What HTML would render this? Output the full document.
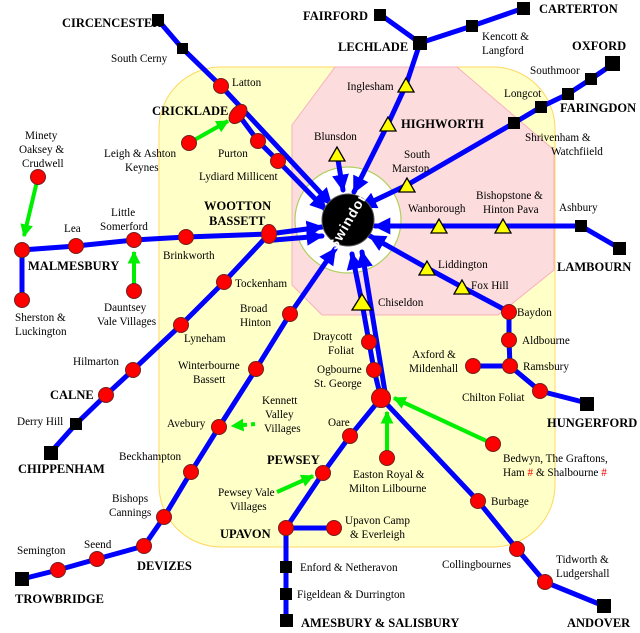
<!DOCTYPE html>
<html><head><meta charset="utf-8"><style>
html,body{margin:0;padding:0;background:#fff}
svg{display:block}
text{font-family:"Liberation Serif",serif;font-size:11.2px;fill:#000}
.b{font-weight:bold;font-size:12.5px;letter-spacing:0}
</style></head><body>
<svg width="640" height="633" viewBox="0 0 640 633">
<defs>
<marker id="ab" viewBox="0 0 10 10" refX="9" refY="5" markerWidth="3.4" markerHeight="3.4" orient="auto" markerUnits="strokeWidth"><path d="M0,0L10,5L0,10z" fill="#0000ff"/></marker>
<marker id="ag" viewBox="0 0 10 10" refX="9" refY="5" markerWidth="3.2" markerHeight="3.2" orient="auto" markerUnits="strokeWidth"><path d="M0,0L10,5L0,10z" fill="#00ee00"/></marker>
</defs>
<rect x="159" y="67" width="396" height="480" rx="62" fill="#ffffc8" stroke="#ffd860" stroke-width="1"/>
<polygon points="335,67 457,67 554,150 554,270 498,315 322,315 292,285 292,125" fill="#fcdcdc" stroke="#f8b0c0" stroke-width="1"/>
<circle cx="348" cy="220" r="53" fill="#fff" stroke="#b0d060" stroke-width="1.2"/>
<g stroke="#0000ff" stroke-width="5" fill="none" stroke-linecap="round">
<polyline points="158,20 182,48 221,86 331,204" marker-end="url(#ab)"/>
<polyline points="238,114 258,141 278,161 326,210" marker-end="url(#ab)"/>
<polyline points="381,15 420,43 472,26 524,8"/>
<polyline points="420,43 406,85 388,124 354,192" marker-end="url(#ab)"/>
<line x1="337" y1="154" x2="343" y2="190" marker-end="url(#ab)"/>
<polyline points="613,64 591,79 568,94 541,107 514,123 407,185 361,207" marker-end="url(#ab)"/>
<polyline points="619,248 581,226 503,226 439,226 375,226" marker-end="url(#ab)"/>
<polyline points="509,312 462,287 427,268 370,236" marker-end="url(#ab)"/>
<polyline points="22,300 22,250 76,246 134,240 186,237 269,234 322,227" marker-end="url(#ab)"/>
<line x1="274" y1="240" x2="322" y2="236" marker-end="url(#ab)"/>
<polyline points="50,453 76,424 106,395 133,370 181,325 224,282 269,234"/>
<polyline points="22,579 58,570 97,559 144,546 164,517 191,472 219,427 256,369 290,314 335,249" marker-end="url(#ab)"/>
<polyline points="381,398 374,370 369,342 362,303 352,254" marker-end="url(#ab)"/>
<line x1="386" y1="398" x2="362" y2="252" marker-end="url(#ab)"/>
<polyline points="286,621 286,567 286,528 323,473 350,436 381,398 478,501 517,549 545,582 604,606"/>
<line x1="286" y1="528" x2="334" y2="528"/>
<polyline points="509,312 509,340 510,366 540,391 587,403"/>
<line x1="473" y1="366" x2="510" y2="366"/>
</g>
<g stroke="#00ee00" stroke-width="4" fill="none">
<line x1="189" y1="143" x2="228" y2="121" marker-end="url(#ag)"/>
<line x1="38" y1="177" x2="24" y2="236" marker-end="url(#ag)"/>
<line x1="134" y1="291" x2="134" y2="252" marker-end="url(#ag)"/>
<line x1="255" y1="424" x2="232" y2="426" stroke-dasharray="4,4" marker-end="url(#ag)"/>
<line x1="277" y1="492" x2="313" y2="476" marker-end="url(#ag)"/>
<line x1="387" y1="458" x2="387" y2="412" marker-end="url(#ag)"/>
<line x1="493" y1="444" x2="394" y2="398" marker-end="url(#ag)"/>
</g>
<circle cx="348" cy="220" r="26" fill="#000" stroke="#555"/>
<text x="348" y="225" text-anchor="middle" transform="rotate(-60 348 220)" style="fill:#fff;font-family:'Liberation Sans',sans-serif;font-weight:bold;font-size:14px;letter-spacing:1px">Swindon</text>
<g fill="#ff0000" stroke="#702020" stroke-width="1">
<circle cx="221" cy="86" r="7.5"/><circle cx="189" cy="143" r="7.5"/><circle cx="258" cy="141" r="7.5"/><circle cx="278" cy="161" r="7.5"/>
<ellipse cx="238" cy="114" rx="11" ry="7" transform="rotate(-50 238 114)"/>
<ellipse cx="269" cy="234" rx="7.5" ry="9.5"/>
<circle cx="22" cy="250" r="7.5"/><circle cx="76" cy="246" r="7.5"/><circle cx="134" cy="240" r="7.5"/><circle cx="186" cy="237" r="7.5"/>
<circle cx="38" cy="177" r="7.5"/><circle cx="22" cy="300" r="7.5"/><circle cx="134" cy="291" r="7.5"/>
<circle cx="224" cy="282" r="7.5"/><circle cx="181" cy="325" r="7.5"/><circle cx="133" cy="370" r="7.5"/><circle cx="106" cy="395" r="7.5"/>
<circle cx="290" cy="314" r="7.5"/><circle cx="256" cy="369" r="7.5"/><circle cx="219" cy="427" r="7.5"/><circle cx="191" cy="472" r="7.5"/><circle cx="164" cy="517" r="7.5"/><circle cx="144" cy="546" r="7.5"/><circle cx="97" cy="559" r="7.5"/><circle cx="58" cy="570" r="7.5"/>
<circle cx="369" cy="342" r="7.5"/><circle cx="374" cy="370" r="7.5"/><circle cx="381" cy="398" r="9.5"/>
<circle cx="350" cy="436" r="7.5"/><circle cx="323" cy="473" r="7.5"/><circle cx="286" cy="528" r="7.5"/><circle cx="334" cy="528" r="7.5"/>
<circle cx="387" cy="458" r="7.5"/><circle cx="493" cy="444" r="7.5"/>
<circle cx="478" cy="501" r="7.5"/><circle cx="517" cy="549" r="7.5"/><circle cx="545" cy="582" r="7.5"/>
<circle cx="509" cy="312" r="7.5"/><circle cx="509" cy="340" r="7.5"/><circle cx="510" cy="366" r="7.5"/><circle cx="473" cy="366" r="7.5"/><circle cx="540" cy="391" r="7.5"/>
</g>
<g fill="#000">
<rect x="152" y="14" width="12" height="12"/><rect x="177" y="43" width="11" height="11"/>
<rect x="374" y="9" width="12" height="12"/><rect x="413" y="36" width="14" height="14"/><rect x="466" y="20" width="12" height="12"/><rect x="517" y="2" width="13" height="13"/>
<rect x="605" y="56" width="15" height="15"/><rect x="585" y="73" width="12" height="12"/><rect x="562" y="88" width="12" height="12"/><rect x="535" y="101" width="12" height="12"/><rect x="508" y="117" width="12" height="12"/>
<rect x="575" y="220" width="12" height="12"/><rect x="613" y="242" width="13" height="13"/>
<rect x="70" y="418" width="12" height="12"/><rect x="44" y="446" width="14" height="14"/>
<rect x="15" y="572" width="14" height="14"/>
<rect x="580" y="397" width="14" height="14"/><rect x="597" y="599" width="14" height="14"/>
<rect x="280" y="561" width="12" height="12"/><rect x="280" y="588" width="12" height="12"/><rect x="280" y="614" width="13" height="13"/>
</g>
<g fill="#ffff00" stroke="#000" stroke-width="1.3">
<polygon points="406,78 398,92 414,92"/><polygon points="388,117 380,131 396,131"/><polygon points="337,147 329,161 345,161"/>
<polygon points="407,178 399,192 415,192"/><polygon points="439,219 431,233 447,233"/><polygon points="503,219 495,233 511,233"/>
<polygon points="427,261 419,275 435,275"/><polygon points="462,280 454,294 470,294"/><polygon points="362,294 352,310 372,310"/>
</g>
<text class="b" x="62" y="27">CIRCENCESTER</text>
<text x="111" y="62">South Cerny</text>
<text x="232" y="86">Latton</text>
<text class="b" x="152" y="115">CRICKLADE</text>
<text x="104" y="157">Leigh &amp; Ashton</text><text x="125" y="171">Keynes</text>
<text x="218" y="157">Purton</text>
<text x="199" y="180">Lydiard Millicent</text>
<text class="b" x="204" y="210">WOOTTON</text><text class="b" x="209" y="225">BASSETT</text>
<text x="25" y="139">Minety</text><text x="19" y="153">Oaksey &amp;</text><text x="22" y="167">Crudwell</text>
<text x="64" y="232">Lea</text>
<text x="111" y="216">Little</text><text x="100" y="230">Somerford</text>
<text x="163" y="259">Brinkworth</text>
<text class="b" x="28" y="270">MALMESBURY</text>
<text x="15" y="321">Sherston &amp;</text><text x="15" y="335">Luckington</text>
<text x="104" y="311">Dauntsey</text><text x="97" y="325">Vale Villages</text>
<text x="235" y="287">Tockenham</text>
<text x="240" y="312">Broad</text><text x="240" y="326">Hinton</text>
<text x="184" y="342">Lyneham</text>
<text x="73" y="365">Hilmarton</text>
<text class="b" x="50" y="399">CALNE</text>
<text x="17" y="425">Derry Hill</text>
<text class="b" x="18" y="473">CHIPPENHAM</text>
<text x="178" y="369">Winterbourne</text><text x="193" y="383">Bassett</text>
<text x="262" y="404">Kennett</text><text x="265" y="418">Valley</text><text x="264" y="432">Villages</text>
<text x="167" y="427">Avebury</text>
<text x="119" y="460">Beckhampton</text>
<text x="112" y="502">Bishops</text><text x="109" y="516">Cannings</text>
<text class="b" x="137" y="570">DEVIZES</text>
<text x="84" y="548">Seend</text>
<text x="17" y="554">Semington</text>
<text class="b" x="15" y="603">TROWBRIDGE</text>
<text class="b" x="303" y="20">FAIRFORD</text>
<text class="b" x="338" y="51">LECHLADE</text>
<text class="b" x="539" y="13">CARTERTON</text>
<text x="482" y="40">Kencott &amp;</text><text x="482" y="54">Langford</text>
<text class="b" x="572" y="50">OXFORD</text>
<text x="530" y="74">Southmoor</text>
<text x="504" y="97">Longcot</text>
<text class="b" x="560" y="112">FARINGDON</text>
<text x="525" y="141">Shrivenham &amp;</text><text x="551" y="155">Watchfiield</text>
<text x="347" y="90">Inglesham</text>
<text class="b" x="401" y="128">HIGHWORTH</text>
<text x="314" y="140">Blunsdon</text>
<text x="404" y="158">South</text><text x="392" y="172">Marston</text>
<text x="408" y="212">Wanborough</text>
<text x="476" y="199">Bishopstone &amp;</text><text x="483" y="213">Hinton Pava</text>
<text x="559" y="211">Ashbury</text>
<text class="b" x="557" y="271">LAMBOURN</text>
<text x="438" y="268">Liddington</text>
<text x="471" y="289">Fox Hill</text>
<text x="378" y="306">Chiseldon</text>
<text x="313" y="340">Draycott</text><text x="328" y="354">Foliat</text>
<text x="317" y="373">Ogbourne</text><text x="314" y="387">St. George</text>
<text x="517" y="316">Baydon</text>
<text x="522" y="344">Aldbourne</text>
<text x="523" y="370">Ramsbury</text>
<text x="412" y="358">Axford &amp;</text><text x="409" y="372">Mildenhall</text>
<text x="462" y="401">Chilton Foliat</text>
<text class="b" x="547" y="427">HUNGERFORD</text>
<text x="328" y="426">Oare</text>
<text class="b" x="267" y="464">PEWSEY</text>
<text x="353" y="478">Easton Royal &amp;</text><text x="349" y="492">Milton Lilbourne</text>
<text x="503" y="462">Bedwyn, The Graftons,</text>
<text x="503" y="476">Ham <tspan style="fill:#ff0000">#</tspan>  &amp; Shalbourne <tspan style="fill:#ff0000">#</tspan></text>
<text x="218" y="496">Pewsey Vale</text><text x="230" y="510">Villages</text>
<text x="491" y="505">Burbage</text>
<text class="b" x="220" y="538">UPAVON</text>
<text x="345" y="524">Upavon Camp</text><text x="350" y="538">&amp; Everleigh</text>
<text x="442" y="568">Collingbournes</text>
<text x="556" y="563">Tidworth &amp;</text><text x="556" y="577">Ludgershall</text>
<text x="300" y="571">Enford &amp; Netheravon</text>
<text x="297" y="598">Figeldean &amp; Durrington</text>
<text class="b" x="301" y="627">AMESBURY &amp; SALISBURY</text>
<text class="b" x="567" y="627">ANDOVER</text>
</svg>
</body></html>
